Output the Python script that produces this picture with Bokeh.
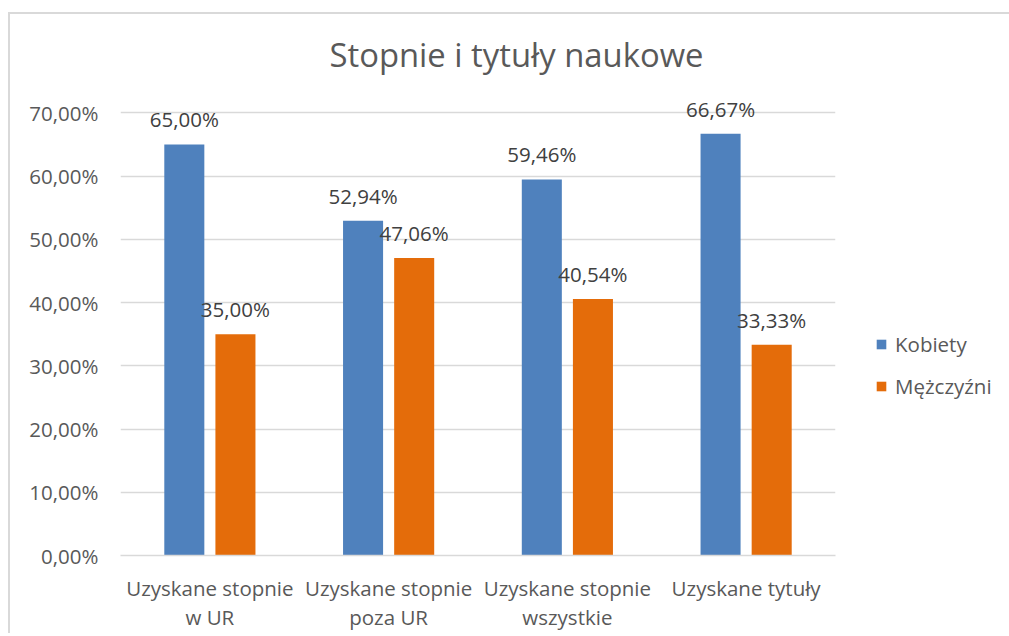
from bokeh.plotting import figure
from bokeh.models import ColumnDataSource, FactorRange, Range1d, FixedTicker, Legend, LegendItem
from bokeh.transform import dodge
from bokeh.core.properties import value
from bokeh.embed import file_html
from bokeh.resources import INLINE

# ---- data ----
categories = ["Uzyskane stopnie\nw UR", "Uzyskane stopnie\npoza UR",
              "Uzyskane stopnie\nwszystkie", "Uzyskane tytuły"]
kobiety = [65.00, 52.94, 59.46, 66.67]
mezczyzni = [35.00, 47.06, 40.54, 33.33]
series_names = ["Kobiety", "Mężczyźni"]
y_ticks = [0, 10, 20, 30, 40, 50, 60, 70]
y_tick_labels = ["0,00%", "10,00%", "20,00%", "30,00%", "40,00%", "50,00%", "60,00%", "70,00%"]
title_text = "Stopnie i tytuły naukowe"

FONT = "Open Sans"
TXT = "#595959"
BLUE = "#4F81BD"
ORANGE = "#E46C0A"
FS = "20.5px"


def fmt(v):
    return f"{v:.2f}".replace(".", ",") + "%"


src = ColumnDataSource(dict(
    cat=categories,
    k=kobiety,
    m=mezczyzni,
    kl=[fmt(v) for v in kobiety],
    ml=[fmt(v) for v in mezczyzni],
))

p = figure(x_range=FactorRange(factors=categories), y_range=Range1d(0, 74),
           frame_width=715, frame_height=468,
           min_border_left=110, min_border_top=73, min_border_bottom=66, min_border_right=166,
           output_backend="svg", toolbar_location=None)
p.styles = {"border-left": "2px solid #d9d9d9", "border-top": "2px solid #d9d9d9",
            "margin-left": "8px", "margin-top": "12px"}
p.outline_line_color = None

p.title.text = title_text
p.title.align = "left"
p.title.text_font = FONT
p.title.text_font_size = "32.8px"
p.title.text_font_style = "normal"
p.title.text_color = TXT
p.title.offset = 209
p.title.standoff = 21

off = 0.143
w = 0.224
rk = p.vbar(x=dodge("cat", -off, range=p.x_range), top="k", width=w, source=src,
            fill_color=BLUE, line_color=None)
rm = p.vbar(x=dodge("cat", off, range=p.x_range), top="m", width=w, source=src,
            fill_color=ORANGE, line_color=None)

p.text(x=dodge("cat", -off, range=p.x_range), y="k", text="kl", source=src,
       text_align="center", text_baseline="alphabetic", y_offset=-25,
       text_font=value(FONT), text_font_size=FS, text_color="#404040")
p.text(x=dodge("cat", off, range=p.x_range), y="m", text="ml", source=src,
       text_align="center", text_baseline="alphabetic", y_offset=-25,
       text_font=value(FONT), text_font_size=FS, text_color="#404040")

# axes
p.yaxis.ticker = FixedTicker(ticks=y_ticks)
p.yaxis.major_label_overrides = {t: l for t, l in zip(y_ticks, y_tick_labels)}
p.yaxis.axis_line_color = None
p.yaxis.major_tick_line_color = None
p.yaxis.minor_tick_line_color = None
p.yaxis.major_label_standoff = 16
p.yaxis.major_label_text_font = FONT
p.yaxis.major_label_text_font_size = FS
p.yaxis.major_label_text_color = TXT

p.xaxis.axis_line_color = "#d9d9d9"
p.xaxis.axis_line_width = 1.5
p.xaxis.major_tick_line_color = None
p.xaxis.minor_tick_line_color = None
p.xaxis.major_label_standoff = 12
p.xaxis.major_label_text_font = FONT
p.xaxis.major_label_text_font_size = FS
p.xaxis.major_label_text_color = TXT
p.xaxis.major_label_text_line_height = 1.05

p.xgrid.grid_line_color = None
p.ygrid.grid_line_color = "#d9d9d9"
p.ygrid.grid_line_width = 1.5
p.ygrid.ticker = FixedTicker(ticks=y_ticks)

legend = Legend(items=[LegendItem(label=series_names[0], renderers=[rk]),
                       LegendItem(label=series_names[1], renderers=[rm])],
                location=(40, 155), padding=0, margin=0, spacing=14,
                border_line_color=None, background_fill_alpha=0,
                glyph_width=12, glyph_height=12, label_standoff=8,
                label_text_font=FONT, label_text_font_size=FS, label_text_color=TXT)
p.add_layout(legend, "right")

open("out.html", "w").write(file_html(p, INLINE))
